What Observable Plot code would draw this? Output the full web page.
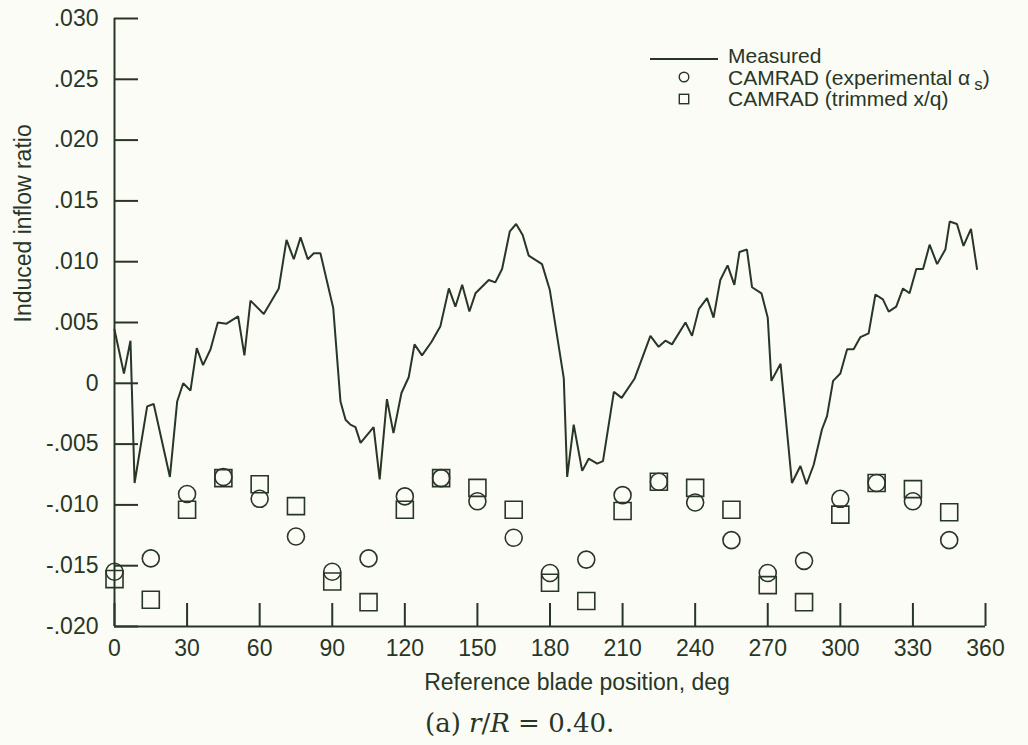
<!DOCTYPE html>
<html>
<head>
<meta charset="utf-8">
<script src="https://cdn.jsdelivr.net/npm/d3@7"></script>
<script src="https://cdn.jsdelivr.net/npm/@observablehq/plot@0.6"></script>
<style>
  html, body { margin: 0; padding: 0; background: #fcfcf6; }
  #wrap { position: relative; width: 1028px; height: 745px; overflow: hidden; color: #283626;
          font-family: "Liberation Sans", Arial, Helvetica, sans-serif; }
  #legend { position: absolute; left: 640px; top: 45px; font-size: 21px; line-height: 21.5px; }
  #legend .row { display: flex; align-items: center; height: 21.5px; white-space: nowrap; }
  #legend .sym { width: 88px; display: flex; justify-content: center; }
  #legend .sym svg { display: block; }
  #caption { position: absolute; left: 0; top: 710px; width: 1028px; text-align: left;
             font-family: "DejaVu Serif", "Liberation Serif", serif; font-size: 26px; line-height: 1; }
  #caption span.t { position: absolute; left: 425px; white-space: nowrap; }
  sub { font-size: 0.8em; vertical-align: -0.3em; line-height: 0; }
</style>
</head>
<body>
<div id="wrap">
  <div id="chart"></div>
  <div id="legend"></div>
  <div id="caption"></div>
</div>
<script>
// ---- data ----
const measuredDeg = [0, 3.9, 6.6, 8.3, 13.5, 16.2, 22.9, 25.9, 28.4, 31.4, 34.0, 36.6, 39.7, 42.7, 46.3, 51.1, 53.7, 56.2, 61.7, 67.9,
  71.1, 74.1, 76.9, 79.9, 82.4, 85.1, 90.4, 93.4, 95.5, 97.5, 99.6, 101.7, 107.1, 109.6, 112.6, 115.3, 118.6, 121.6, 124.0, 127.1,
  131.0, 134.7, 138.2, 140.9, 143.7, 146.7, 149.2, 154.7, 157.4, 160.2, 163.4, 166.0, 168.7, 171.2, 176.7, 179.9, 185.7, 187.1, 189.8, 193.3,
  196.0, 199.5, 201.9, 206.4, 209.6, 215.0, 221.5, 224.9, 227.7, 230.4, 236.0, 238.7, 241.5, 244.9, 247.6, 250.4, 253.4, 256.2, 258.3, 261.4,
  263.5, 267.4, 270.0, 271.5, 275.3, 280.0, 283.5, 286.0, 289.0, 292.4, 294.5, 297.0, 300.0, 302.8, 305.5, 308.3, 311.7, 314.5, 317.6, 320.0,
  323.1, 325.9, 328.6, 331.4, 334.2, 336.9, 340.0, 343.4, 345.2, 348.2, 350.9, 354.0, 356.5];
const measuredVal = [0.0044, 0.0008, 0.0035, -0.0082, -0.0019, -0.0017, -0.0077, -0.0015, 0.0000, -0.0006, 0.0029, 0.0015, 0.0028, 0.0050, 0.0049, 0.0055, 0.0023, 0.0068, 0.0057, 0.0078,
  0.0118, 0.0102, 0.0120, 0.0102, 0.0107, 0.0107, 0.0062, -0.0015, -0.0030, -0.0034, -0.0036, -0.0049, -0.0036, -0.0079, -0.0013, -0.0041, -0.0008, 0.0005, 0.0032, 0.0023,
  0.0034, 0.0047, 0.0078, 0.0063, 0.0081, 0.0059, 0.0074, 0.0085, 0.0083, 0.0094, 0.0125, 0.0131, 0.0122, 0.0105, 0.0098, 0.0077, 0.0004, -0.0077, -0.0034, -0.0072,
  -0.0062, -0.0066, -0.0064, -0.0007, -0.0012, 0.0004, 0.0039, 0.0030, 0.0035, 0.0032, 0.0050, 0.0039, 0.0061, 0.0070, 0.0054, 0.0085, 0.0097, 0.0081, 0.0108, 0.0110,
  0.0079, 0.0074, 0.0054, 0.0002, 0.0016, -0.0082, -0.0068, -0.0083, -0.0067, -0.0038, -0.0027, 0.0002, 0.0008, 0.0028, 0.0028, 0.0038, 0.0041, 0.0073, 0.0069, 0.0059,
  0.0063, 0.0078, 0.0074, 0.0094, 0.0094, 0.0114, 0.0098, 0.0110, 0.0133, 0.0131, 0.0113, 0.0127, 0.0094];

const camradDeg = [0, 15, 30, 45, 60, 75, 90, 105, 120, 135, 150, 165, 180, 195, 210, 225, 240, 255, 270, 285, 300, 315, 330, 345];
const camradExperimental = [-0.0155, -0.0144, -0.0091, -0.0077, -0.0095, -0.0126, -0.0155, -0.0144, -0.0093, -0.0078, -0.0097, -0.0127,
  -0.0156, -0.0145, -0.0092, -0.0081, -0.0098, -0.0129, -0.0156, -0.0146, -0.0095, -0.0082, -0.0097, -0.0129];
const camradTrimmed = [-0.0161, -0.0178, -0.0104, -0.0078, -0.0083, -0.0101, -0.0163, -0.0180, -0.0104, -0.0078, -0.0086, -0.0104,
  -0.0164, -0.0179, -0.0105, -0.0081, -0.0086, -0.0104, -0.0166, -0.0180, -0.0108, -0.0082, -0.0087, -0.0106];

const xTicks = [0, 30, 60, 90, 120, 150, 180, 210, 240, 270, 300, 330, 360];
const yTicks = [0.030, 0.025, 0.020, 0.015, 0.010, 0.005, 0, -0.005, -0.010, -0.015, -0.020];
const yTickLabels = [".030", ".025", ".020", ".015", ".010", ".005", "0", "-.005", "-.010", "-.015", "-.020"];
const xLabel = "Reference blade position, deg";
const yLabel = "Induced inflow ratio";
const seriesNames = ["Measured", "CAMRAD (experimental \u03b1", "CAMRAD (trimmed x/q)"];

// ---- build ----
const ink = "#283626";
const measured = measuredDeg.map((d, i) => ({deg: d, v: measuredVal[i]}));
const expPts = camradDeg.map((d, i) => ({deg: d, v: camradExperimental[i]}));
const trimPts = camradDeg.map((d, i) => ({deg: d, v: camradTrimmed[i]}));
const yFmt = v => yTickLabels[yTicks.findIndex(t => Math.abs(t - v) < 1e-9)];

const chart = Plot.plot({
  width: 1028,
  height: 700,
  marginLeft: 114,
  marginRight: 43,
  marginTop: 18,
  marginBottom: 74,
  style: {background: "transparent", color: ink, fontFamily: "'Liberation Sans', Arial, Helvetica, sans-serif", fontSize: "23px"},
  x: {domain: [0, 360]},
  y: {domain: [-0.020, 0.030]},
  marks: [
    Plot.axisX({ticks: xTicks, tickSize: -23, text: null, label: null, stroke: ink, strokeWidth: 2}),
    Plot.axisX({ticks: xTicks, tickSize: 0, tickPadding: 13, tickFormat: d => String(d), label: null, fontSize: 23, fill: ink}),
    Plot.axisY({ticks: yTicks, tickSize: -24, text: null, label: null, stroke: ink, strokeWidth: 2}),
    Plot.axisY({ticks: yTicks, tickSize: 0, tickPadding: 16, tickFormat: yFmt, label: null, fontSize: 23, fill: ink}),
    Plot.ruleX([0], {stroke: ink, strokeWidth: 2}),
    Plot.ruleY([-0.020], {stroke: ink, strokeWidth: 2}),
    Plot.line(measured, {x: "deg", y: "v", stroke: ink, strokeWidth: 2, strokeLinejoin: "miter"}),
    Plot.dot(expPts, {x: "deg", y: "v", symbol: "circle", r: 8.5, stroke: ink, strokeWidth: 1.6, fill: "none"}),
    Plot.dot(trimPts, {x: "deg", y: "v", symbol: "square", r: 9.6, stroke: ink, strokeWidth: 1.6, fill: "none"}),
    Plot.text([xLabel], {frameAnchor: "bottom", text: d => d, dx: 27, dy: 63, lineAnchor: "bottom", fontSize: 23, fill: ink}),
    Plot.text([yLabel], {frameAnchor: "left", text: d => d, rotate: -90, dx: -84, lineAnchor: "bottom", fontSize: 23, fill: ink})
  ]
});
document.getElementById("chart").appendChild(chart);

// ---- legend ----
const legend = document.getElementById("legend");
const symLine = `<svg width="70" height="12"><line x1="1" x2="69" y1="9" y2="9" stroke="${ink}" stroke-width="2"/></svg>`;
const symCircle = `<svg width="12" height="12"><circle cx="6" cy="6" r="4.8" fill="none" stroke="${ink}" stroke-width="1.4"/></svg>`;
const symSquare = `<svg width="12" height="12"><rect x="1.3" y="1.3" width="9.4" height="9.4" fill="none" stroke="${ink}" stroke-width="1.4"/></svg>`;
legend.innerHTML =
  `<div class="row"><div class="sym">${symLine}</div><span>${seriesNames[0]}</span></div>` +
  `<div class="row"><div class="sym">${symCircle}</div><span>${seriesNames[1]}&thinsp;<sub>s</sub>)</span></div>` +
  `<div class="row"><div class="sym">${symSquare}</div><span>${seriesNames[2]}</span></div>`;

// ---- caption ----
document.getElementById("caption").innerHTML =
  `<span class="t">(a) <i>r</i>/<i>R</i> = 0.40.</span>`;
</script>
</body>
</html>
